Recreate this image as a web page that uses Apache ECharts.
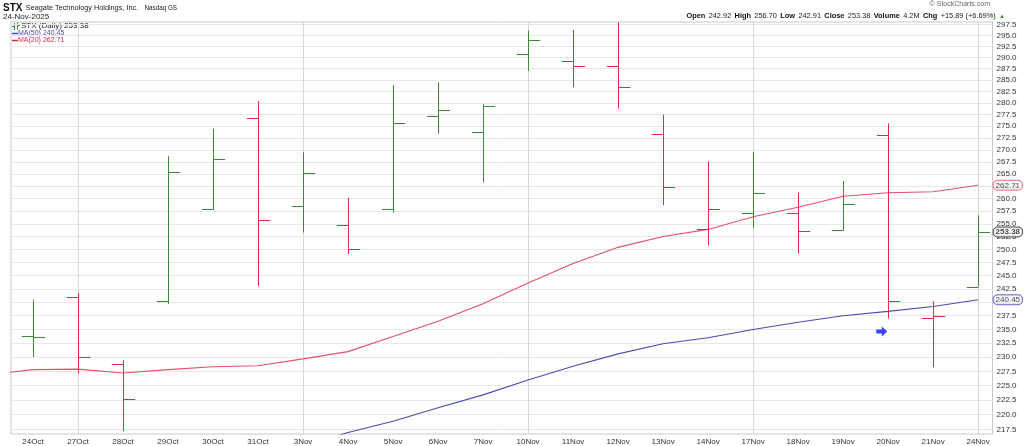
<!DOCTYPE html>
<html><head><meta charset="utf-8">
<script src="https://cdn.jsdelivr.net/npm/echarts@6/dist/echarts.min.js"></script>
<style>html,body{margin:0;padding:0;background:#fff}#c{width:1024px;height:446px}</style>
</head><body><div id="c"></div><script>
const dates = ['24Oct','27Oct','28Oct','29Oct','30Oct','31Oct','3Nov','4Nov','5Nov','6Nov','7Nov','10Nov','11Nov','12Nov','13Nov','14Nov','17Nov','18Nov','19Nov','20Nov','21Nov','24Nov'];
const opens  = [233.8,241.0,228.8,240.2,258.0,276.7,258.6,254.8,258.0,277.2,273.8,290.7,289.3,288.0,273.4,253.9,257.2,257.2,253.7,273.1,237.1,242.92];
const highs  = [240.5,241.7,229.5,268.7,274.5,280.4,269.5,260.2,283.9,284.5,279.7,296.1,296.2,298.0,277.5,267.6,269.6,261.2,263.6,275.6,240.2,256.70];
const lows   = [230.0,227.2,217.2,239.7,257.8,243.0,253.3,249.1,257.2,273.4,263.3,287.0,283.4,278.8,258.7,250.8,254.2,249.2,253.7,237.0,228.2,242.91];
const closes = [233.7,230.0,222.7,265.5,268.2,255.7,265.3,250.1,275.6,278.5,279.3,294.0,288.0,283.4,262.4,258.0,261.2,253.6,259.0,240.2,237.49,253.38];
const ma20Lead = 226.9; // 23Oct, off the left edge
const ma20 = [227.8,227.9,227.2,227.8,228.3,228.5,229.7,231.0,233.7,236.5,239.7,243.6,247.3,250.4,252.5,253.9,256.4,258.3,260.5,261.2,261.4,262.71];
const ma50 = [null,null,null,null,null,null,214.7,217.0,218.9,221.2,223.4,226.0,228.4,230.6,232.4,233.5,235.0,236.3,237.5,238.3,239.2,240.45];
const yTicks = [217.5,220.0,222.5,225.0,227.5,230.0,232.5,235.0,237.5,240.0,242.5,245.0,247.5,250.0,252.5,255.0,257.5,260.0,262.5,265.0,267.5,270.0,272.5,275.0,277.5,280.0,282.5,285.0,287.5,290.0,292.5,295.0,297.5];
const weekStarts = [1,6,11,16,21];
const arrowMarks = [[18.86, 234.6]];
const lastMA20 = 262.71, lastMA50 = 240.45, lastClose = 253.38;

const GREEN = '#3a8a3a', RED = '#e0284f', MA20C = '#e5506f', MA50C = '#4b4bb4';

const ohlc = dates.map((d, i) => {
  const up = i === 0 ? 1 : (closes[i] >= closes[i - 1] ? 1 : -1);
  return [i, opens[i], highs[i], lows[i], closes[i], up];
});
const ma20Data = [[-1, ma20Lead]].concat(ma20.map((v, i) => [i, v]));
const ma50Data = ma50.map((v, i) => [i, v]);
const last = dates.length - 1;

const chart = echarts.init(document.getElementById('c'));
const fontF = 'Liberation Sans, Arial, sans-serif';
function endItem(v, border, bold) {
  return {
    value: [last, v],
    label: {
      show: true, position: 'right', distance: 15,
      formatter: v.toFixed(2),
      fontFamily: fontF, fontSize: 8, color: '#111', fontWeight: bold ? 'bold' : 'normal',
      backgroundColor: '#fff', borderColor: border, borderWidth: 1, borderRadius: 4,
      padding: [1, 2, 0, 2]
    }
  };
}
chart.setOption({
  animation: false,
  backgroundColor: '#fff',
  grid: { left: 11, right: 31.5, top: 22, bottom: 12, show: true, borderColor: '#c8c8c8', borderWidth: 1 },
  xAxis: {
    type: 'value', min: -0.489, max: 21.32,
    axisLine: { show: false, onZero: false },
    axisTick: { show: false },
    splitLine: { show: false },
    axisLabel: {
      customValues: dates.map((d, i) => i),
      formatter: v => dates[Math.round(v)],
      fontFamily: fontF, fontSize: 8, color: '#333', margin: 4
    }
  },
  yAxis: {
    type: 'log', position: 'right', min: 216.74, max: 298.08,
    axisLine: { show: true, onZero: false, lineStyle: { color: '#c8c8c8' } },
    axisTick: { show: false },
    splitLine: { show: false },
    axisLabel: {
      customValues: yTicks,
      formatter: v => Number(v).toFixed(1),
      fontFamily: fontF, fontSize: 8, color: '#333', margin: 4
    }
  },
  series: [
    {
      type: 'line', data: [], z: 1, silent: true,
      markLine: {
        z: 1, silent: true, symbol: ['none', 'none'], animation: false,
        label: { show: false },
        data: yTicks.map(v => ({ yAxis: v, lineStyle: { color: '#e8e8e8', width: 1, type: 'solid' } }))
          .concat(weekStarts.map(v => ({ xAxis: v, lineStyle: { color: '#d8d8d8', width: 1, type: 'solid' } })))
      }
    },
    {
      type: 'line', data: ma20Data, showSymbol: false, symbol: 'none', clip: true,
      lineStyle: { color: MA20C, width: 1.1 }, z: 3
    },
    {
      type: 'line', data: ma50Data, showSymbol: false, symbol: 'none', clip: true,
      lineStyle: { color: MA50C, width: 1.1 }, z: 3
    },
    {
      type: 'custom', data: ohlc, clip: true, z: 4,
      encode: { x: 0, y: [1, 2, 3, 4] },
      renderItem(params, api) {
        const x = api.value(0);
        const h = api.coord([x, api.value(2)]);
        const l = api.coord([x, api.value(3)]);
        const o = api.coord([x, api.value(1)]);
        const c = api.coord([x, api.value(4)]);
        const step = api.coord([x + 1, api.value(2)])[0] - h[0];
        const tw = step * 0.26;
        const col = api.value(5) > 0 ? GREEN : RED;
        const cx = Math.round(h[0]) + 0.5;
        const oy = Math.round(o[1]) + 0.5, cy = Math.round(c[1]) + 0.5;
        const st = { stroke: col, lineWidth: 1 };
        return { type: 'group', children: [
          { type: 'line', shape: { x1: cx, y1: h[1], x2: cx, y2: l[1] }, style: st },
          { type: 'line', shape: { x1: cx - tw, y1: oy, x2: cx, y2: oy }, style: st },
          { type: 'line', shape: { x1: cx, y1: cy, x2: cx + tw, y2: cy }, style: st }
        ]};
      }
    },
    {
      type: 'scatter', z: 6, symbolSize: 1, clip: false, silent: true,
      itemStyle: { color: 'transparent' },
      data: [endItem(lastMA20, MA20C, false), endItem(lastMA50, '#4444cc', false), endItem(lastClose, '#222', true)]
    },
    {
      type: 'scatter', data: arrowMarks, z: 5,
      symbol: 'path://M0,3 L5,3 L5,0 L10,5 L5,10 L5,7 L0,7 Z',
      symbolSize: [11, 10],
      itemStyle: { color: '#0a14ff' }
    }
  ],
  graphic: [
    { type: 'text', left: 3, top: 2, style: { text: '{a|STX} {b|Seagate Technology Holdings, Inc.} {c|Nasdaq GS}',
      rich: { a: { fontFamily: fontF, fontSize: 10, fontWeight: 'bold', fill: '#111' },
              b: { fontFamily: fontF, fontSize: 7.3, fill: '#222' },
              c: { fontFamily: fontF, fontSize: 6.3, fill: '#222', padding: [0, 0, 0, 3] } } } },
    { type: 'text', left: 3, top: 13, style: { text: '24-Nov-2025', fontFamily: fontF, fontSize: 8, fill: '#222' } },
    { type: 'text', right: 34, top: 1, style: { text: '© StockCharts.com', fontFamily: fontF, fontSize: 7, fill: '#666' } },
    { type: 'text', right: 19, top: 10, style: {
      text: '{l|Open} {v|242.92} {l|High} {v|256.70} {l|Low} {v|242.91} {l|Close} {v|253.38} {l|Volume} {v|4.2M} {l|Chg} {v|+15.89 (+6.69%)} {t|▲}',
      rich: { l: { fontFamily: fontF, fontSize: 7.4, fontWeight: 'bold', fill: '#111' },
              v: { fontFamily: fontF, fontSize: 7.4, fill: '#222' },
              t: { fontFamily: fontF, fontSize: 6, fill: GREEN } } } },
    // legend block
    { type: 'group', z: 100, children: [
      { type: 'line', shape: { x1: 14.5, y1: 23, x2: 14.5, y2: 30 }, style: { stroke: GREEN, lineWidth: 1 } },
      { type: 'line', shape: { x1: 12, y1: 26.5, x2: 14.5, y2: 26.5 }, style: { stroke: GREEN, lineWidth: 1 } },
      { type: 'line', shape: { x1: 17.5, y1: 22.5, x2: 17.5, y2: 29.5 }, style: { stroke: GREEN, lineWidth: 1 } },
      { type: 'line', shape: { x1: 17.5, y1: 25.5, x2: 20, y2: 25.5 }, style: { stroke: GREEN, lineWidth: 1 } },
      { type: 'text', x: 21, y: 22, style: { text: 'STX (Daily) 253.38', fontFamily: fontF, fontSize: 8, fill: '#222' } },
      { type: 'line', shape: { x1: 12, y1: 33.5, x2: 18, y2: 33.5 }, style: { stroke: MA50C, lineWidth: 1.5 } },
      { type: 'text', x: 18, y: 30, style: { text: 'MA(50) 240.45', fontFamily: fontF, fontSize: 7, fill: MA50C } },
      { type: 'line', shape: { x1: 12, y1: 40.5, x2: 18, y2: 40.5 }, style: { stroke: RED, lineWidth: 1.5 } },
      { type: 'text', x: 18, y: 37, style: { text: 'MA(20) 262.71', fontFamily: fontF, fontSize: 7, fill: RED } }
    ]}
  ]
});
</script></body></html>
